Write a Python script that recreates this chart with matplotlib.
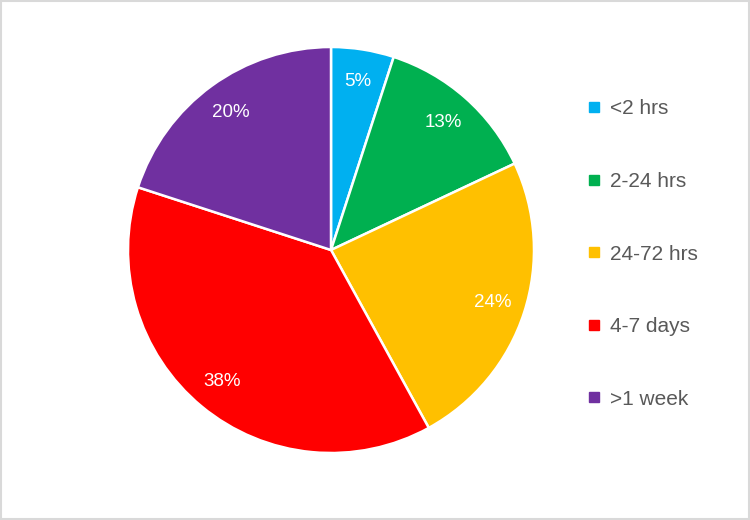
import matplotlib
matplotlib.use('Agg')
import matplotlib.pyplot as plt
from matplotlib.lines import Line2D

labels = ['<2 hrs', '2-24 hrs', '24-72 hrs', '4-7 days', '>1 week']
values = [5, 13, 24, 38, 20]
colors = ['#00B0F0', '#00B050', '#FFC000', '#FF0000', '#7030A0']

plt.rcParams['font.family'] = ['Liberation Sans', 'DejaVu Sans']

fig = plt.figure(figsize=(7.5, 5.2), dpi=100)
# pie centred at (331, 250) px, radius ~203 px
ax = fig.add_axes([(331 - 203) / 750, (270 - 203) / 520, 406 / 750, 406 / 520])
wedges, texts, autotexts = ax.pie(values, colors=colors, startangle=90, counterclock=False,
                                  autopct='%1.0f%%', pctdistance=0.84, radius=1.0,
                                  wedgeprops=dict(edgecolor='white', linewidth=1.8),
                                  textprops=dict(color='white', fontsize=13.5))
ax.set_xlim(-1, 1)
ax.set_ylim(-1, 1)
ax.set_aspect('equal')

handles = [Line2D([], [], marker='s', linestyle='none', markersize=7.5,
                  markerfacecolor=c, markeredgecolor=c) for c in colors]
fig.legend(handles, labels, loc='upper left', bbox_to_anchor=(577 / 750, 1 - 89 / 520),
           frameon=False, fontsize=15, labelcolor='#595959', labelspacing=2.57,
           handlelength=0.6, handletextpad=0.5, borderpad=0)

# light grey chart border
fig.patches.append(plt.Rectangle((0.0015, 0.002), 0.997, 0.996, transform=fig.transFigure,
                                 fill=False, edgecolor='#D9D9D9', linewidth=1.5))

fig.savefig('out.png', dpi=100)
